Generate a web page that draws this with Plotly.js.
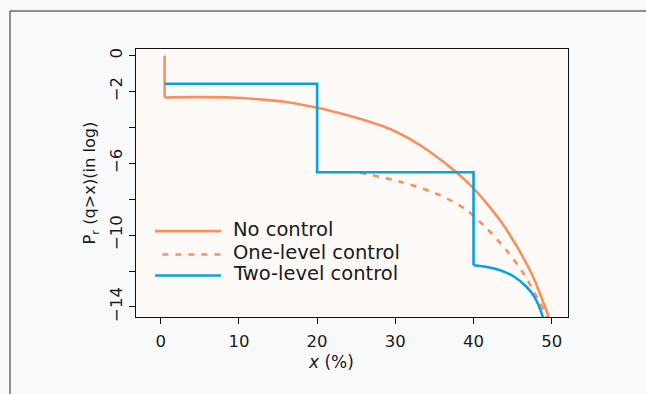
<!DOCTYPE html>
<html>
<head>
<meta charset="utf-8">
<script src="https://cdn.plot.ly/plotly-3.0.1.min.js"></script>
<style>
html,body{margin:0;padding:0;background:#f8f9fb;}
#chart{width:646px;height:394px;}
</style>
</head>
<body>
<div id="chart"></div>
<script>
// ---- data ----
const noCtrlStepX = [0.5, 0.5];
const noCtrlStepY = [0, -2.33];
const noCtrlX = [0.5, 4, 9, 13, 16, 20, 24, 27, 29.4, 32, 34.5, 37.8, 40, 42, 43.6, 45.5, 47.6, 48.8, 49.6, 49.9];
const noCtrlY = [-2.33, -2.31, -2.33, -2.45, -2.58, -2.9, -3.33, -3.72, -4.1, -4.68, -5.38, -6.5, -7.4, -8.4, -9.3, -10.6, -12.3, -13.6, -14.56, -15.2];

const oneLevelX = [25.5, 30.6, 35.7, 39.1, 41.7, 44.2, 46.4, 48.1, 49.4, 49.7];
const oneLevelY = [-6.52, -7.02, -7.77, -8.6, -9.63, -10.84, -12.14, -13.45, -14.56, -15.0];

const twoStepX = [0.5, 20, 20, 40, 40];
const twoStepY = [-1.57, -1.57, -6.5, -6.5, -11.68];
const twoCurveX = [40, 41.7, 43.4, 45.1, 46.8, 47.8, 48.5, 48.85, 49.1];
const twoCurveY = [-11.68, -11.77, -11.96, -12.29, -12.89, -13.45, -14.1, -14.56, -15.0];

const xTicks = [0, 10, 20, 30, 40, 50];
const yMajorTicks = [0, -2, -6, -10, -14];
const yMajorText = ['0', '\u22122', '\u22126', '\u221210', '\u221214'];
const yMinorTicks = [-4, -8, -12];

const legendNames = ['No control', 'One-level control', 'Two-level control'];
const xTitle = '<i>x</i> (%)';
const yTitle = 'P<sub>r</sub> (q&gt;x)(in log)';

// ---- styling ----
const ORANGE = '#f4915f';
const BLUE = '#08a2dd';
const FONT = 'DejaVu Sans, Liberation Sans, sans-serif';
const TXT = '#1a1a1a';

const traces = [
  {x: noCtrlStepX, y: noCtrlStepY, mode: 'lines', line: {color: ORANGE, width: 2.6}, hoverinfo: 'skip', showlegend: false},
  {x: noCtrlX, y: noCtrlY, mode: 'lines', line: {color: ORANGE, width: 2.6, shape: 'spline', smoothing: 0.8}, name: legendNames[0], showlegend: false},
  {x: oneLevelX, y: oneLevelY, mode: 'lines', line: {color: ORANGE, width: 2.6, dash: '6px,7px', shape: 'spline', smoothing: 0.8}, name: legendNames[1], showlegend: false},
  {x: twoStepX, y: twoStepY, mode: 'lines', line: {color: BLUE, width: 2.6}, name: legendNames[2], showlegend: false},
  {x: twoCurveX, y: twoCurveY, mode: 'lines', line: {color: BLUE, width: 2.6, shape: 'spline', smoothing: 0.8}, hoverinfo: 'skip', showlegend: false}
];

// manual legend (paper coordinates)
const legY = [0.3205, 0.2334, 0.1548];
const legColors = [ORANGE, ORANGE, BLUE];
const legDash = ['solid', '6px,7px', 'solid'];
const legX0 = [0.044, 0.061, 0.044];
const shapes = [];
const annotations = [];
for (let i = 0; i < 3; i++) {
  shapes.push({type: 'line', xref: 'paper', yref: 'paper', x0: legX0[i], x1: 0.1968, y0: legY[i], y1: legY[i],
    line: {color: legColors[i], width: 2.6, dash: legDash[i]}});
  annotations.push({xref: 'paper', yref: 'paper', x: 0.2195, y: legY[i] + 0.006, xanchor: 'left', yanchor: 'middle',
    text: legendNames[i], showarrow: false, font: {family: FONT, size: 19.5, color: TXT}});
}
// x-axis title placed as in the reference (slightly left of centre)
annotations.push({xref: 'paper', yref: 'paper', x: 0.4514, y: -0.1694, xanchor: 'center', yanchor: 'middle',
  text: xTitle, showarrow: false, font: {family: FONT, size: 17, color: TXT}});

// outer frame (top and left lines)
shapes.push({type: 'line', xref: 'paper', yref: 'paper', x0: -0.2917, x1: 1.3, y0: 1.142, y1: 1.142, line: {color: '#6a6a6a', width: 1.5}});
shapes.push({type: 'line', xref: 'paper', yref: 'paper', x0: -0.2917, x1: -0.2917, y0: 1.142, y1: -0.35, line: {color: '#6a6a6a', width: 1.5}});

const tickStyle = {ticks: 'outside', ticklen: 6, tickwidth: 1, tickcolor: '#111'};

const layout = {
  width: 646, height: 394,
  margin: {l: 136, r: 78, t: 49, b: 77, pad: 0},
  paper_bgcolor: '#f8f9fb',
  plot_bgcolor: '#fdf9f6',
  font: {family: FONT, size: 17, color: TXT},
  showlegend: false,
  xaxis: Object.assign({
    range: [-3.16, 52.08], tickmode: 'array', tickvals: xTicks, ticklabelstandoff: 3,
    showline: true, mirror: true, linecolor: '#111', linewidth: 1.2, showgrid: false, zeroline: false,
    tickfont: {family: FONT, size: 16.5, color: TXT}
  }, tickStyle),
  yaxis: Object.assign({
    range: [-14.56, 0.37], tickmode: 'array', tickvals: yMajorTicks, ticktext: yMajorText, tickangle: -90,
    minor: {tickmode: 'array', tickvals: yMinorTicks, ticks: 'outside', ticklen: 6, tickwidth: 1, tickcolor: '#111', showgrid: false},
    showline: true, mirror: true, linecolor: '#111', linewidth: 1.2, showgrid: false, zeroline: false,
    tickfont: {family: FONT, size: 16.5, color: TXT},
    title: {text: yTitle, font: {family: FONT, size: 16.2, color: TXT}, standoff: 7}
  }, tickStyle),
  shapes: shapes,
  annotations: annotations
};

Plotly.newPlot('chart', traces, layout, {displayModeBar: false, staticPlot: true});
</script>
</body>
</html>
